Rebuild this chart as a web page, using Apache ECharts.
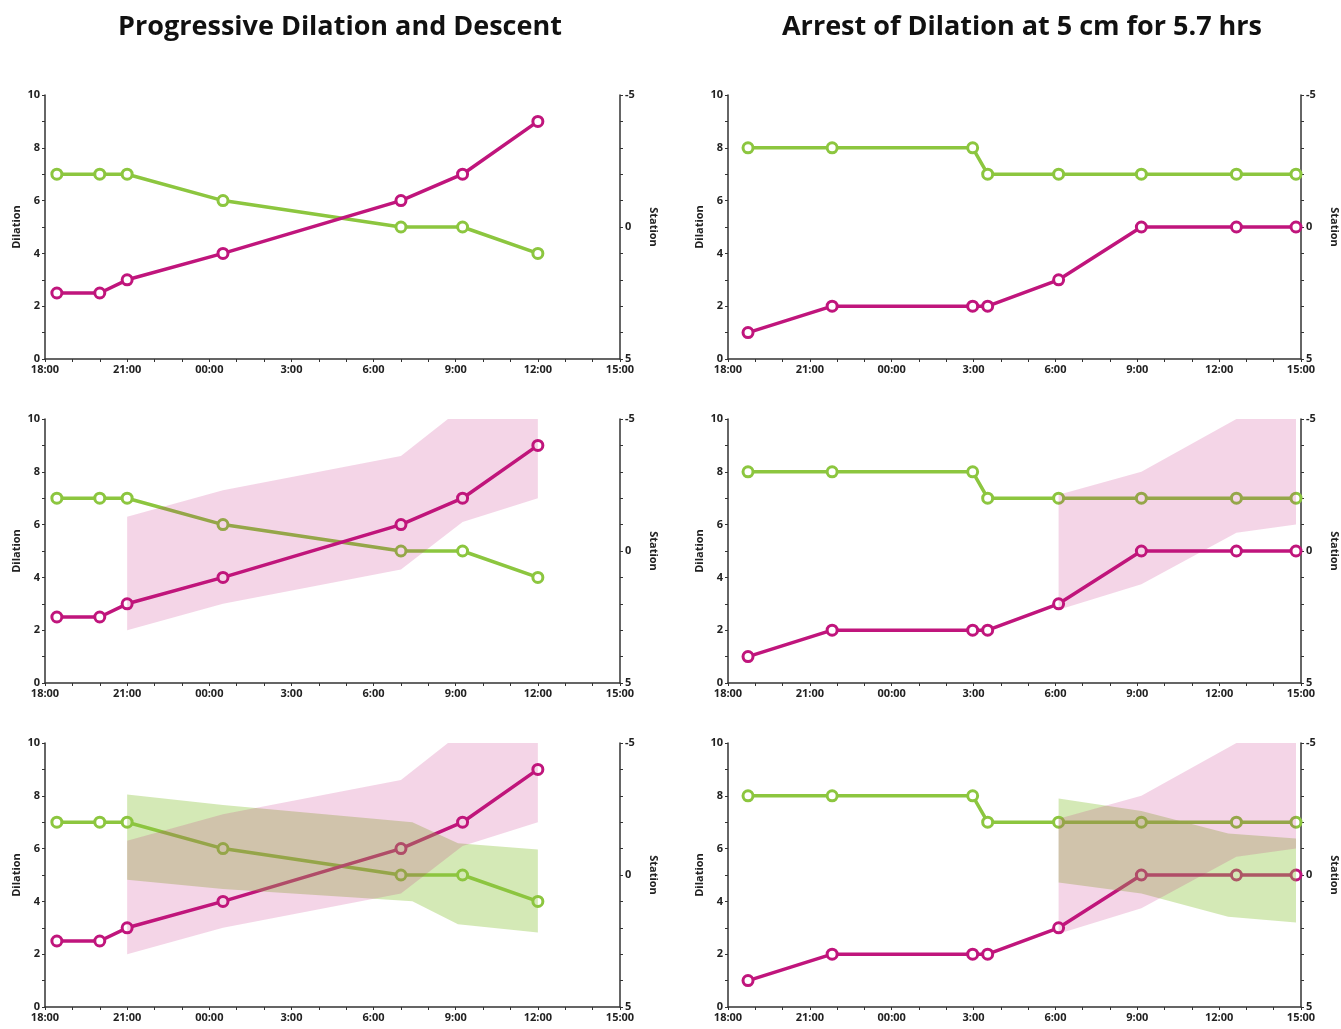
<!DOCTYPE html>
<html>
<head>
<meta charset="utf-8">
<title>Labor progress</title>
<script src="https://cdn.jsdelivr.net/npm/echarts@6/dist/echarts.min.js"></script>
<style>
  html, body { margin: 0; padding: 0; background: #fff; }
  #chart { width: 1341px; height: 1029px; }
</style>
</head>
<body>
<div id="chart"></div>
<script>
// ---- data ----
const titles = ['Progressive Dilation and Descent', 'Arrest of Dilation at 5 cm for 5.7 hrs'];
const timeTickLabels = ['18:00', '21:00', '00:00', '3:00', '6:00', '9:00', '12:00', '15:00'];
const stationTickLabels = ['-5', '0', '5'];

// left column: progressive labour
const leftTimes = ['18:26', '20:00', '21:00', '00:30', '07:00', '09:15', '12:00'];
const leftDilation = [2.5, 2.5, 3, 4, 6, 7, 9];
const leftStation = [-2, -2, -2, -1, 0, 0, 1];

const leftDilUpperTimes = ['21:00', '00:30', '07:00', '08:43', '12:00'];
const leftDilUpper = [6.3, 7.3, 8.6, 10, 10];
const leftDilLowerTimes = ['21:00', '00:30', '07:00', '09:15', '12:00'];
const leftDilLower = [2.0, 3.0, 4.3, 6.1, 7.0];

const leftStaUpperTimes = ['21:00', '00:30', '07:25', '09:05', '12:00'];
const leftStaUpper = [-3.05, -2.65, -2.0, -1.2, -0.97];
const leftStaLowerTimes = ['21:00', '00:30', '07:25', '09:05', '12:00'];
const leftStaLower = [0.18, 0.53, 0.99, 1.87, 2.18];

// right column: arrest of dilation
const rightTimes = ['18:44', '21:49', '02:58', '03:31', '06:07', '09:09', '12:38', '14:49'];
const rightDilation = [1, 2, 2, 2, 3, 5, 5, 5];
const rightStation = [-3, -3, -3, -2, -2, -2, -2, -2];

const rightDilUpperTimes = ['06:07', '09:09', '12:38', '14:49'];
const rightDilUpper = [7.13, 8.0, 10, 10];
const rightDilLowerTimes = ['06:07', '09:09', '12:38', '14:49'];
const rightDilLower = [2.77, 3.74, 5.69, 6.0];

const rightStaUpperTimes = ['06:07', '09:09', '12:20', '14:49'];
const rightStaUpper = [-2.9, -2.42, -1.57, -1.38];
const rightStaLowerTimes = ['06:07', '09:09', '12:20', '14:49'];
const rightStaLower = [0.28, 0.7, 1.58, 1.8];

// ---- helpers ----
const MAGENTA = '#C0157C';
const GREEN = '#8CC63F';
const AXIS = '#333';
const FONT = '"Open Sans"';

// hours elapsed since 18:00
function hrs(t) {
  const parts = t.split(':').map(Number);
  let v = parts[0] + parts[1] / 60;
  if (v < 18) v += 24;
  return v - 18;
}

function pairs(times, vals) {
  return times.map((t, i) => [hrs(t), vals[i]]);
}

function bandData(upT, up, loT, lo) {
  return pairs(upT, up).concat(pairs(loT, lo).reverse());
}

const colLeft = [45, 728];
const colWidth = [575, 574];
const rowTop = [95, 419, 743];
const rowHeight = 264;

const grids = [];
const xAxes = [];
const yAxes = [];
const series = [];

const columns = [
  {
    times: leftTimes, dil: leftDilation, sta: leftStation,
    dilBand: bandData(leftDilUpperTimes, leftDilUpper, leftDilLowerTimes, leftDilLower),
    staBand: bandData(leftStaUpperTimes, leftStaUpper, leftStaLowerTimes, leftStaLower)
  },
  {
    times: rightTimes, dil: rightDilation, sta: rightStation,
    dilBand: bandData(rightDilUpperTimes, rightDilUpper, rightDilLowerTimes, rightDilLower),
    staBand: bandData(rightStaUpperTimes, rightStaUpper, rightStaLowerTimes, rightStaLower)
  }
];

function bandSeries(data, xIdx, yIdx, fill, z) {
  return {
    type: 'custom',
    xAxisIndex: xIdx,
    yAxisIndex: yIdx,
    z: z,
    silent: true,
    data: data,
    renderItem: function (params, api) {
      if (params.dataIndex !== 0) return null;
      const pts = data.map(d => api.coord(d));
      return { type: 'polygon', shape: { points: pts }, style: { fill: fill } };
    }
  };
}

function lineSeries(data, xIdx, yIdx, color) {
  return {
    type: 'line',
    xAxisIndex: xIdx,
    yAxisIndex: yIdx,
    z: 2,
    data: data,
    symbol: 'circle',
    symbolSize: 10,
    showAllSymbol: true,
    lineStyle: { color: color, width: 3.5 },
    itemStyle: { color: '#fff', borderColor: color, borderWidth: 3 },
    animation: false
  };
}

const tickLabelStyle = { color: '#222', fontFamily: FONT, fontWeight: 'bold', fontSize: 11 };
const nameStyle = { color: '#222', fontFamily: FONT, fontWeight: 'bold', fontSize: 11 };

for (let c = 0; c < 2; c++) {
  for (let r = 0; r < 3; r++) {
    const p = c * 3 + r;
    const col = columns[c];
    grids.push({ left: colLeft[c], top: rowTop[r], width: colWidth[c], height: rowHeight });

    xAxes.push({
      type: 'value', gridIndex: p, min: 0, max: 21, interval: 1,
      splitLine: { show: false },
      axisLine: { lineStyle: { color: AXIS, width: 1.5 } },
      axisTick: { length: 3, lineStyle: { color: AXIS } },
      axisLabel: Object.assign({}, tickLabelStyle, {
        margin: 5,
        formatter: v => (v % 3 === 0 ? timeTickLabels[v / 3] : '')
      })
    });

    yAxes.push({
      type: 'value', gridIndex: p, position: 'left', min: 0, max: 10, interval: 1,
      name: 'Dilation', nameLocation: 'middle', nameGap: 23, nameTextStyle: nameStyle,
      splitLine: { show: false },
      axisLine: { show: true, lineStyle: { color: AXIS, width: 1.5 } },
      axisTick: { show: true, length: 3, lineStyle: { color: AXIS } },
      axisLabel: Object.assign({}, tickLabelStyle, {
        margin: 5,
        formatter: v => (v % 2 === 0 ? String(v) : '')
      })
    });

    yAxes.push({
      type: 'value', gridIndex: p, position: 'right', min: -5, max: 5, interval: 1, inverse: true,
      name: 'Station', nameLocation: 'middle', nameGap: 28, nameRotate: -90, nameTextStyle: nameStyle,
      splitLine: { show: false },
      axisLine: { show: true, lineStyle: { color: AXIS, width: 1.5 } },
      axisTick: { show: true, length: 3, lineStyle: { color: AXIS } },
      axisLabel: Object.assign({}, tickLabelStyle, {
        margin: 5,
        formatter: v => (stationTickLabels.indexOf(String(v)) >= 0 ? String(v) : '')
      })
    });

    series.push(lineSeries(pairs(col.times, col.sta), p, 2 * p + 1, GREEN));
    series.push(lineSeries(pairs(col.times, col.dil), p, 2 * p, MAGENTA));

    if (r === 2) {
      series.push(bandSeries(col.staBand, p, 2 * p + 1, 'rgba(141,198,63,0.38)', 3));
    }
    if (r >= 1) {
      series.push(bandSeries(col.dilBand, p, 2 * p, 'rgba(192,21,124,0.18)', 4));
    }
  }
}

const chart = echarts.init(document.getElementById('chart'), null, { renderer: 'canvas' });
chart.setOption({
  animation: false,
  backgroundColor: '#fff',
  title: [
    { text: titles[0], left: 335, top: 9, textAlign: 'center',
      textStyle: { fontFamily: FONT, fontWeight: 'bold', fontSize: 27, color: '#111' } },
    { text: titles[1], left: 1017, top: 9, textAlign: 'center',
      textStyle: { fontFamily: FONT, fontWeight: 'bold', fontSize: 27, color: '#111' } }
  ],
  grid: grids,
  xAxis: xAxes,
  yAxis: yAxes,
  series: series
});

window.addEventListener('resize', function () {
  chart.resize();
});
</script>
</body>
</html>
